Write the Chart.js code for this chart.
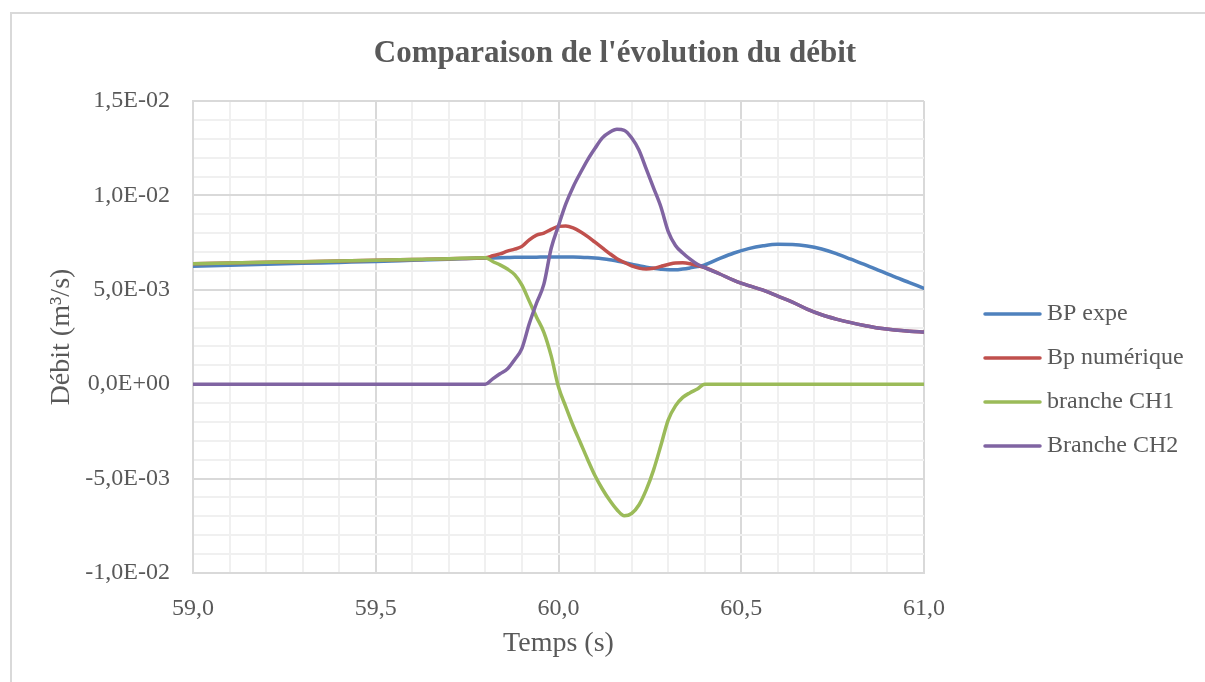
<!DOCTYPE html>
<html lang="fr">
<head>
<meta charset="utf-8">
<title>Comparaison de l'évolution du débit</title>
<script src="https://cdn.jsdelivr.net/npm/chart.js@4.4.0/dist/chart.umd.min.js"></script>
<style>
  html, body { margin: 0; padding: 0; background: #fff; overflow: hidden; }
  .chart-box {
    position: absolute; left: 10px; top: 12px;
    width: 1206px; height: 680px;
    border-left: 2px solid #d9d9d9; border-top: 2px solid #d9d9d9;
  }
</style>
</head>
<body>
<div class="chart-box">
  <canvas id="debit" width="1206" height="668"></canvas>
</div>
<script>
// temps (s)
const temps = [59.0, 59.1, 59.2, 59.3, 59.4, 59.5, 59.6, 59.7, 59.8,
  59.82, 59.84, 59.86, 59.88, 59.90, 59.92, 59.94, 59.96, 59.98, 60.00,
  60.02, 60.04, 60.06, 60.08, 60.10, 60.12, 60.14, 60.16, 60.18, 60.20,
  60.22, 60.24, 60.26, 60.28, 60.30, 60.32, 60.34, 60.36, 60.38, 60.40,
  60.44, 60.48, 60.52, 60.56, 60.60, 60.64, 60.68, 60.72, 60.76, 60.80,
  60.84, 60.88, 60.92, 60.96, 61.0];

// débits, en 1E-03 m3/s
const bpExpe = [6.25, 6.30, 6.35, 6.40, 6.45, 6.50, 6.56, 6.62, 6.68,
  6.69, 6.70, 6.71, 6.72, 6.72, 6.73, 6.73, 6.74, 6.74, 6.74,
  6.74, 6.74, 6.73, 6.71, 6.68, 6.64, 6.59, 6.52, 6.45, 6.36,
  6.28, 6.20, 6.14, 6.09, 6.06, 6.06, 6.10, 6.16, 6.23, 6.32,
  6.65, 6.95, 7.18, 7.33, 7.41, 7.40, 7.32, 7.16, 6.92, 6.62,
  6.32, 6.00, 5.68, 5.38, 5.08];

const bpNumerique = [6.38, 6.42, 6.46, 6.49, 6.52, 6.56, 6.60, 6.65, 6.70,
  6.80, 6.90, 7.05, 7.15, 7.30, 7.65, 7.90, 8.00, 8.20, 8.36,
  8.38, 8.28, 8.08, 7.82, 7.52, 7.22, 6.92, 6.65, 6.45, 6.27,
  6.15, 6.10, 6.14, 6.24, 6.34, 6.42, 6.43, 6.38, 6.28, 6.18,
  5.85, 5.50, 5.22, 4.98, 4.66, 4.35, 3.98, 3.68, 3.45, 3.26,
  3.10, 2.96, 2.87, 2.81, 2.77];

const brancheCH1 = [6.38, 6.42, 6.46, 6.49, 6.52, 6.56, 6.60, 6.65, 6.70,
  6.50, 6.32, 6.10, 5.80, 5.25, 4.40, 3.55, 2.75, 1.50, -0.15,
  -1.20, -2.20, -3.10, -4.00, -4.85, -5.55, -6.15, -6.65, -6.97, -6.85,
  -6.40, -5.60, -4.55, -3.25, -1.90, -1.15, -0.70, -0.45, -0.25, 0,
  0, 0, 0, 0, 0, 0, 0, 0, 0, 0,
  0, 0, 0, 0, 0];

const brancheCH2 = [0, 0, 0, 0, 0, 0, 0, 0, 0,
  0.28, 0.55, 0.80, 1.30, 1.90, 3.20, 4.30, 5.30, 7.20, 8.40,
  9.55, 10.45, 11.20, 11.90, 12.50, 13.05, 13.35, 13.50, 13.45, 13.05,
  12.40, 11.40, 10.40, 9.40, 8.10, 7.35, 6.95, 6.62, 6.35, 6.18,
  5.85, 5.50, 5.22, 4.98, 4.66, 4.35, 3.98, 3.68, 3.45, 3.26,
  3.10, 2.96, 2.87, 2.81, 2.77];

const series = [
  { label: 'BP expe', values: bpExpe, color: '#4f81bd' },
  { label: 'Bp numérique', values: bpNumerique, color: '#c0504d' },
  { label: 'branche CH1', values: brancheCH1, color: '#9bbb59' },
  { label: 'Branche CH2', values: brancheCH2, color: '#8064a2' },
];

const titre = "Comparaison de l'évolution du débit";
const FONT = '"Liberation Serif", "Times New Roman", serif';
const GREY = '#595959';

function fmtExp(v) {
  // 0.015 -> 1,5E-02
  const [m, e] = v.toExponential(1).split('e');
  const n = parseInt(e, 10);
  const sign = n < 0 ? '-' : '+';
  return m.replace('.', ',') + 'E' + sign + String(Math.abs(n)).padStart(2, '0');
}

function isMultiple(v, step) {
  const r = v / step;
  return Math.abs(r - Math.round(r)) < 1e-6;
}

// titre + légende dessinés à la manière d'Excel
const decor = {
  id: 'decor',
  afterDraw(chart) {
    const { ctx, chartArea } = chart;
    ctx.save();
    ctx.fillStyle = GREY;
    ctx.textBaseline = 'middle';
    ctx.textAlign = 'center';
    ctx.font = 'bold 31px ' + FONT;
    ctx.fillText(titre, chart.width / 2, 40);

    ctx.font = '24px ' + FONT;
    ctx.textAlign = 'left';
    const x0 = chartArea.right + 61;
    chart.data.datasets.forEach((ds, i) => {
      const y = 300 + i * 44;
      ctx.strokeStyle = ds.borderColor;
      ctx.lineWidth = 3.5;
      ctx.lineCap = 'round';
      ctx.beginPath();
      ctx.moveTo(x0, y);
      ctx.lineTo(x0 + 55, y);
      ctx.stroke();
      ctx.fillStyle = GREY;
      ctx.fillText(ds.label, x0 + 62, y);
    });
    ctx.restore();
  }
};

const ctx = document.getElementById('debit').getContext('2d');
new Chart(ctx, {
  type: 'line',
  data: {
    datasets: series.map((s, i) => ({
      label: s.label,
      data: temps.map((t, k) => ({ x: t, y: s.values[k] * 1e-3 })),
      borderColor: s.color,
      backgroundColor: s.color,
      borderWidth: 3.5,
      pointRadius: 0,
      cubicInterpolationMode: 'monotone',
      borderCapStyle: 'round',
      borderJoinStyle: 'round',
      order: series.length - i,
    }))
  },
  options: {
    responsive: false,
    animation: false,
    layout: { padding: { top: 87, right: 294, left: 0, bottom: 0 } },
    plugins: {
      legend: { display: false },
      title: { display: false },
      tooltip: { enabled: false },
    },
    scales: {
      x: {
        type: 'linear',
        min: 59,
        max: 61,
        afterFit(scale) { scale.height = 109; },
        border: { display: true, color: '#d9d9d9', width: 2 },
        grid: {
          drawTicks: false,
          lineWidth: 2,
          color: c => isMultiple(c.tick.value, 0.5) ? '#d9d9d9' : '#f0f0f0',
        },
        ticks: {
          stepSize: 0.1,
          autoSkip: false,
          maxRotation: 0,
          padding: 21,
          color: GREY,
          font: { family: FONT, size: 24 },
          callback: v => isMultiple(v, 0.5) ? v.toFixed(1).replace('.', ',') : '',
        },
        title: {
          display: true,
          text: 'Temps (s)',
          color: GREY,
          font: { family: FONT, size: 28 },
          padding: { top: 22, bottom: 22 },
        },
      },
      y: {
        min: -0.01,
        max: 0.015,
        afterFit(scale) { scale.width = 181; },
        border: { display: true, color: '#d9d9d9', width: 2 },
        grid: {
          drawTicks: false,
          lineWidth: 2,
          color: c => {
            const v = c.tick.value;
            if (Math.abs(v) < 1e-9) return '#bfbfbf';
            return isMultiple(v, 0.005) ? '#d9d9d9' : '#f0f0f0';
          },
        },
        ticks: {
          stepSize: 0.001,
          autoSkip: false,
          padding: 23,
          color: GREY,
          font: { family: FONT, size: 24 },
          callback: v => isMultiple(v, 0.005) ? fmtExp(v) : '',
        },
        title: {
          display: true,
          text: 'Débit (m³/s)',
          color: GREY,
          font: { family: FONT, size: 28 },
          padding: { top: 33, bottom: 33 },
        },
      },
    },
  },
  plugins: [decor],
});
</script>
</body>
</html>
